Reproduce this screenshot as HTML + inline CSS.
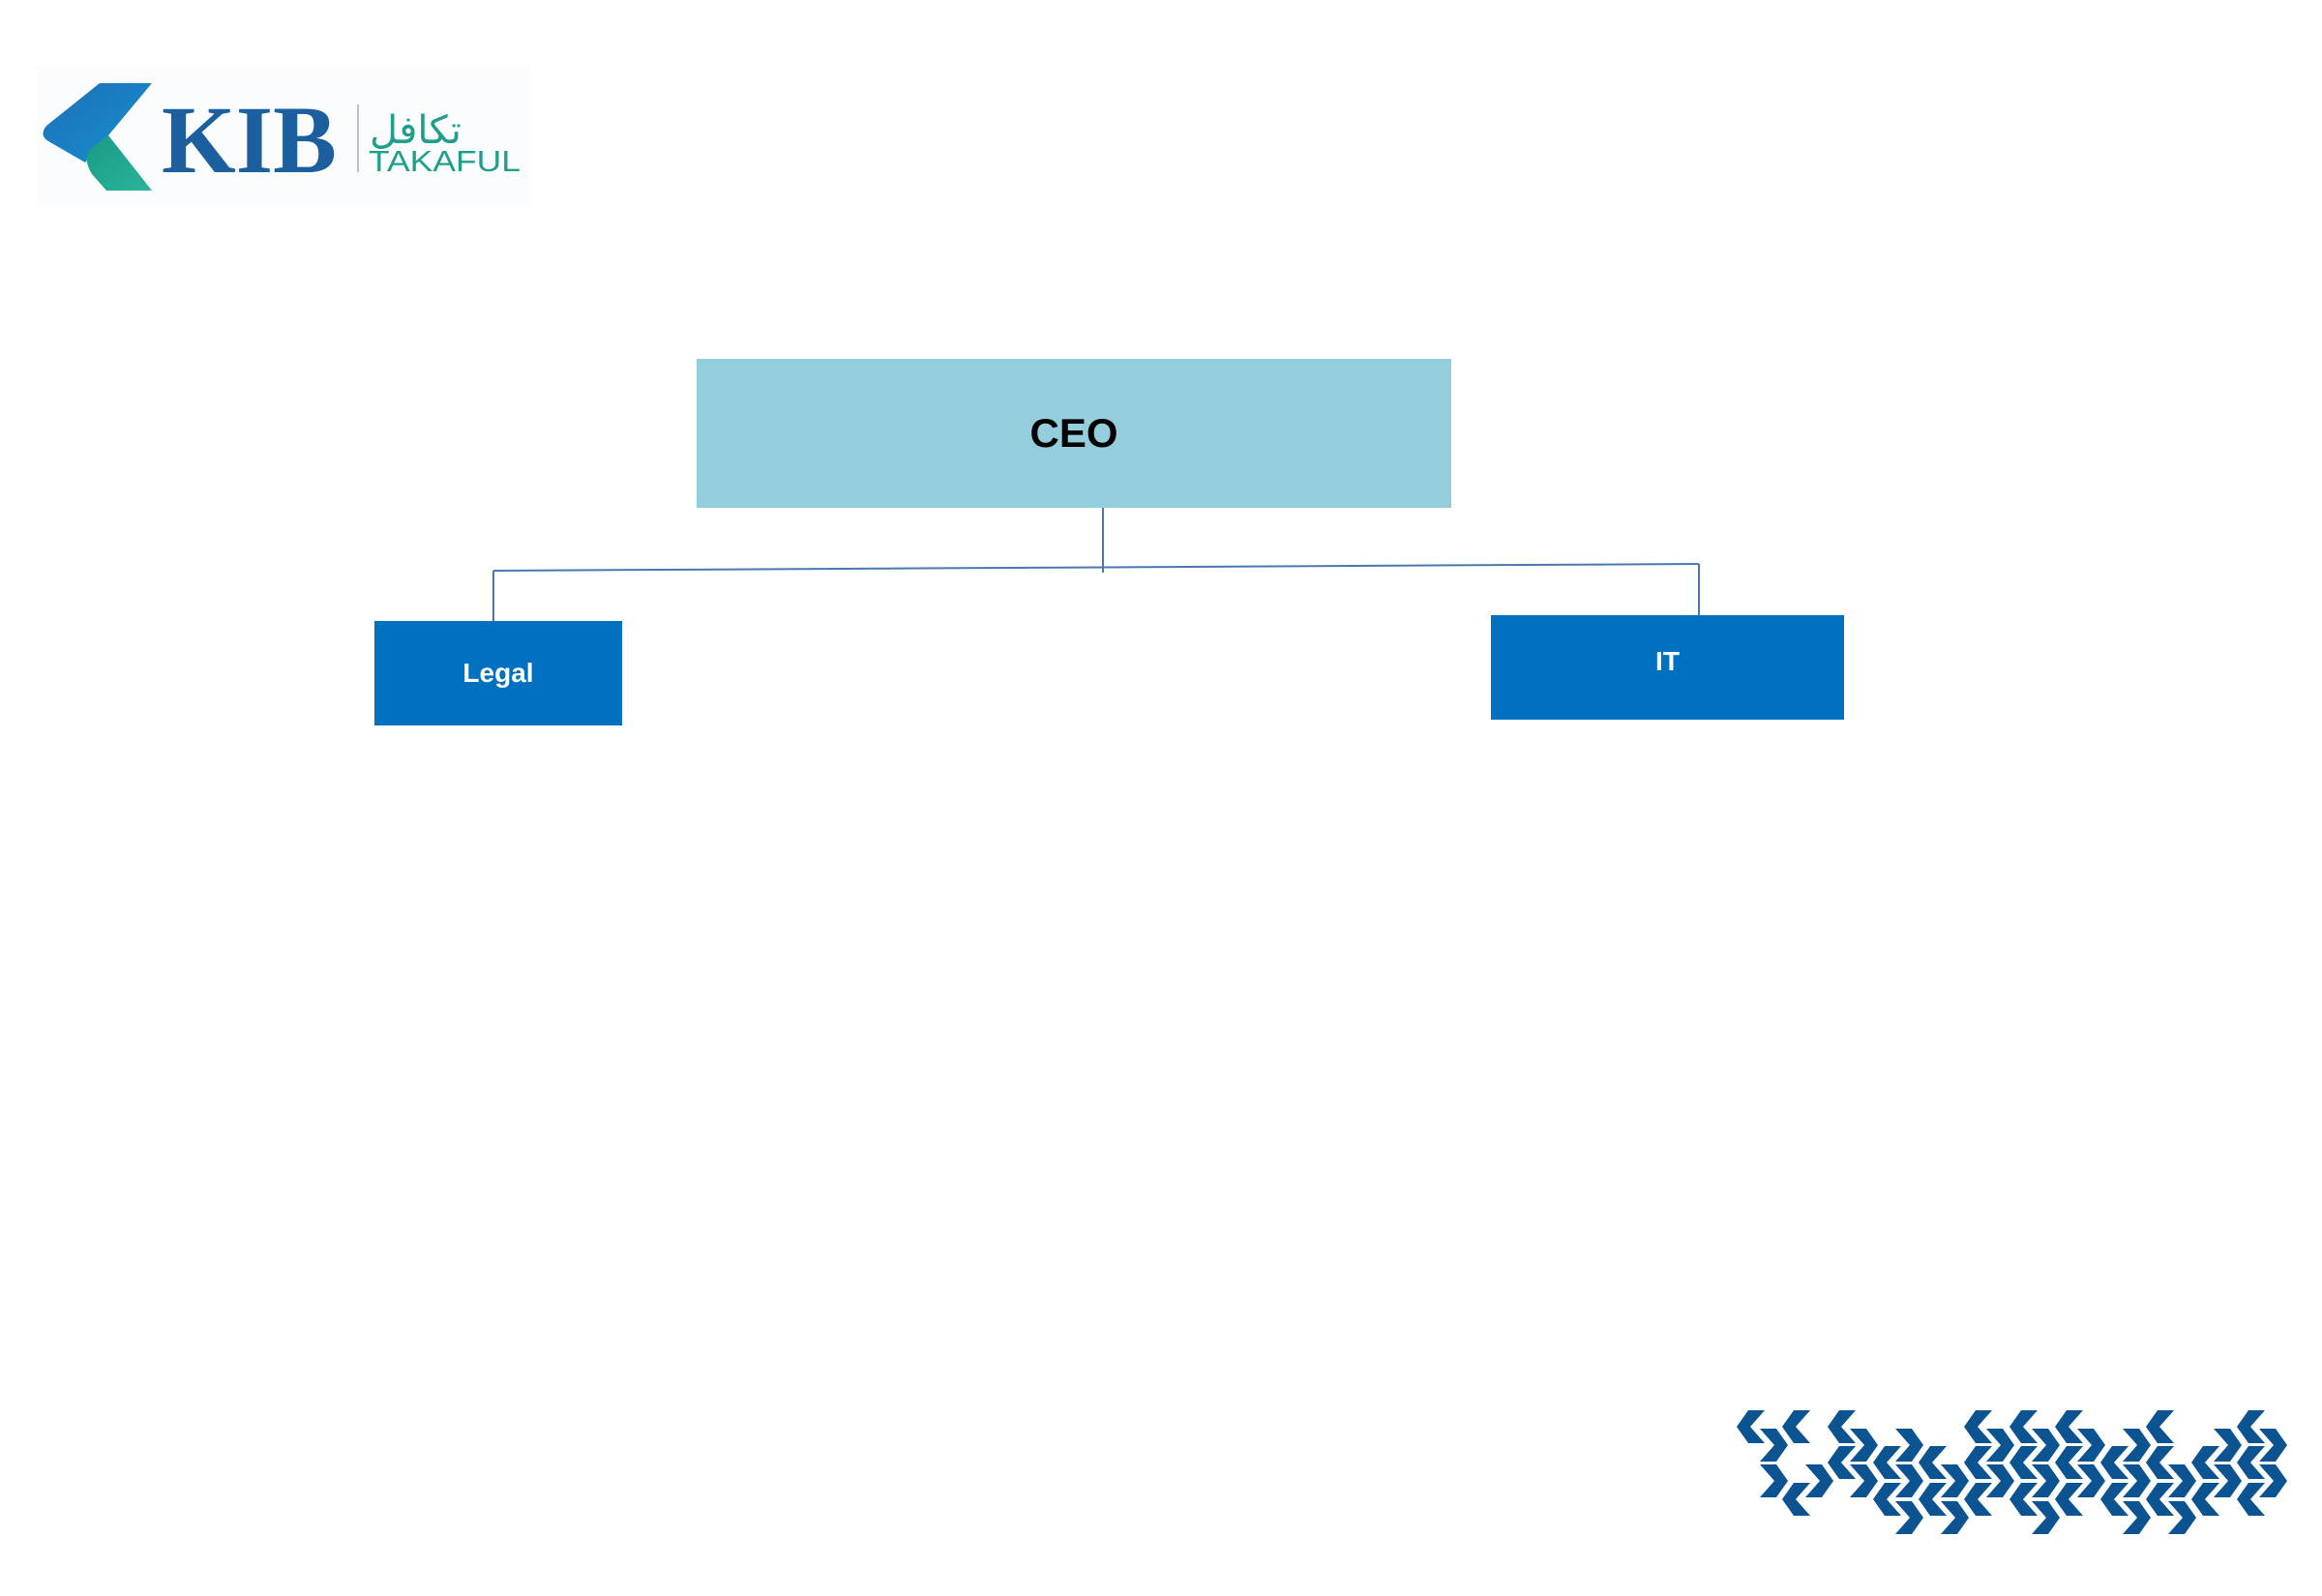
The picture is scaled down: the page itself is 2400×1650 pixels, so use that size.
<!DOCTYPE html>
<html><head><meta charset="utf-8">
<style>
html,body{margin:0;padding:0;background:#fff;}
body{width:2400px;height:1650px;position:relative;overflow:hidden;font-family:"Liberation Sans",sans-serif;}
.box{position:absolute;display:flex;align-items:center;justify-content:center;font-weight:bold;}
</style></head><body>
<div style="position:absolute;left:37px;top:67px;width:511px;height:148px;background:#fbfcfd;"></div>
<svg style="position:absolute;left:0;top:0" width="600" height="240">
  <defs>
    <linearGradient id="g1" x1="0" y1="0" x2="1" y2="1">
      <stop offset="0" stop-color="#1f6fb8"/><stop offset="1" stop-color="#1590cf"/>
    </linearGradient>
    <linearGradient id="g2" x1="0" y1="0" x2="1" y2="1">
      <stop offset="0" stop-color="#1a9a86"/><stop offset="1" stop-color="#2ab59a"/>
    </linearGradient>
  </defs>
  <path d="M103,86 L157,86 L112,140 L88,168 L50,146 Q40,140 48,130 Z" fill="url(#g1)"/>
  <path d="M112,140 L157,197 L110,197 L95,180 Q84,162 96,152 Z" fill="url(#g2)"/>
  <text x="167" y="178" font-family="Liberation Serif" font-weight="bold" font-size="100" fill="#1b5f9e" textLength="181" lengthAdjust="spacingAndGlyphs">KIB</text>
  <rect x="369" y="108" width="2" height="70" fill="#b9c2c8"/>
  <text x="382" y="148" font-family="DejaVu Sans" font-size="40" fill="#1f9e8a">تكافل</text>
  <text x="381" y="177" font-family="Liberation Sans" font-size="31" fill="#1f9e8a" textLength="157" lengthAdjust="spacingAndGlyphs">TAKAFUL</text>
</svg>

<svg style="position:absolute;left:0;top:0" width="2400" height="800">
  <g stroke="#4a78b0" stroke-width="2" fill="none">
    <line x1="1140" y1="525" x2="1140" y2="592"/>
    <line x1="510" y1="590" x2="1756" y2="583"/>
    <line x1="510" y1="590" x2="510" y2="656"/>
    <line x1="1756" y1="583" x2="1756" y2="653"/>
  </g>
</svg>

<div class="box" style="left:720px;top:371px;width:780px;height:154px;background:#94cddc;color:#000;font-size:42px;">CEO</div>
<div class="box" style="left:387px;top:642px;width:256px;height:108px;background:#0070c0;color:#fff;font-size:28px;">Legal</div>
<div class="box" style="left:1541px;top:636px;width:365px;height:108px;background:#0070c0;color:#fff;font-size:28px;padding-bottom:12px;box-sizing:border-box;">IT</div>

<svg style="position:absolute;left:0;top:0" width="2400" height="1650">
  <defs>
    <polygon id="L" points="12,0 29,0 14,17 29,34 12,34 0,17" fill="#0b5391"/>
    <polygon id="R" points="0,0 17,0 29,17 17,34 0,34 15,17" fill="#0b5391"/>
  </defs>
  <use href="#L" x="1795" y="1458"/>
  <use href="#R" x="1819" y="1477"/><use href="#R" x="1819" y="1514"/>
  <use href="#L" x="1842" y="1458"/><use href="#L" x="1842" y="1533"/>
  <use href="#R" x="1866" y="1514"/>
  <use href="#L" x="1889" y="1458"/><use href="#L" x="1889" y="1495"/>
  <use href="#R" x="1912" y="1477"/><use href="#R" x="1912" y="1514"/>
  <use href="#L" x="1936" y="1495"/><use href="#L" x="1936" y="1533"/>
  <use href="#R" x="1959" y="1477"/><use href="#R" x="1959" y="1514"/><use href="#R" x="1959" y="1552"/>
  <use href="#L" x="1983" y="1495"/><use href="#L" x="1983" y="1533"/>
  <use href="#R" x="2006" y="1514"/><use href="#R" x="2006" y="1552"/>
  <use href="#L" x="2030" y="1458"/><use href="#L" x="2030" y="1495"/><use href="#L" x="2030" y="1533"/>
  <use href="#R" x="2053" y="1477"/><use href="#R" x="2053" y="1514"/>
  <use href="#L" x="2077" y="1458"/><use href="#L" x="2077" y="1495"/><use href="#L" x="2077" y="1533"/>
  <use href="#R" x="2100" y="1477"/><use href="#R" x="2100" y="1514"/><use href="#R" x="2100" y="1552"/>
  <use href="#L" x="2124" y="1458"/><use href="#L" x="2124" y="1495"/><use href="#L" x="2124" y="1533"/>
  <use href="#R" x="2147" y="1477"/><use href="#R" x="2147" y="1514"/>
  <use href="#L" x="2171" y="1495"/><use href="#L" x="2171" y="1533"/>
  <use href="#R" x="2194" y="1477"/><use href="#R" x="2194" y="1514"/><use href="#R" x="2194" y="1552"/>
  <use href="#L" x="2218" y="1458"/><use href="#L" x="2218" y="1495"/><use href="#L" x="2218" y="1533"/>
  <use href="#R" x="2241" y="1514"/><use href="#R" x="2241" y="1552"/>
  <use href="#L" x="2265" y="1495"/><use href="#L" x="2265" y="1533"/>
  <use href="#R" x="2288" y="1477"/><use href="#R" x="2288" y="1514"/>
  <use href="#L" x="2312" y="1458"/><use href="#L" x="2312" y="1495"/><use href="#L" x="2312" y="1533"/>
  <use href="#R" x="2335" y="1477"/><use href="#R" x="2335" y="1514"/>
</svg>
</body></html>
